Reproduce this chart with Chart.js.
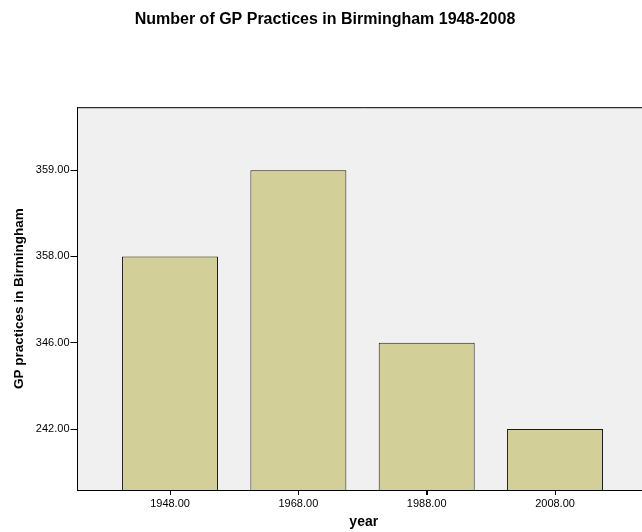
<!DOCTYPE html>
<html>
<head>
<meta charset="utf-8">
<script src="https://cdn.jsdelivr.net/npm/chart.js@4/dist/chart.umd.min.js"></script>
<style>
html,body{margin:0;padding:0;background:#fff;overflow:hidden;}
#wrap{width:650px;height:532px;}
</style>
</head>
<body>
<div id="wrap"><canvas id="c" width="650" height="532"></canvas></div>
<script>
const years = [1948, 1968, 1988, 2008];
const practices = [358, 359, 346, 242];
// SPSS treats the values as ordered categories on the y axis
const yCategories = [...new Set(practices)].sort((a, b) => a - b);
const yTickLabels = yCategories.map(v => v.toFixed(2));
const xTickLabels = years.map(v => v.toFixed(2));

const points = years.map((yr, i) => ({x: yr, y: yCategories.indexOf(practices[i]) + 1}));

const bgPlugin = {
  id: 'bg',
  beforeDraw(chart) {
    const {ctx, chartArea: a} = chart;
    ctx.save();
    ctx.fillStyle = '#f0f0f0';
    ctx.fillRect(a.left, a.top, a.right - a.left, a.bottom - a.top);
    ctx.restore();
  },
  afterDraw(chart) {
    const {ctx, chartArea: a} = chart;
    const xs = chart.scales.x;
    ctx.save();
    ctx.strokeStyle = '#000';
    ctx.lineWidth = 1;
    ctx.beginPath();
    ctx.moveTo(a.left, a.top + 0.5);
    ctx.lineTo(a.right, a.top + 0.5);
    years.forEach(v => {
      const px = Math.round(xs.getPixelForValue(v)) + 0.5;
      ctx.moveTo(px, a.bottom);
      ctx.lineTo(px, a.bottom + 5);
    });
    ctx.stroke();
    ctx.restore();
  }
};

new Chart(document.getElementById('c'), {
  type: 'bar',
  data: {
    datasets: [{
      data: points,
      backgroundColor: '#d3cf98',
      borderColor: '#1a1a1a',
      borderWidth: 1,
      barPercentage: 0.748,
      categoryPercentage: 1
    }]
  },
  plugins: [bgPlugin],
  options: {
    responsive: false,
    animation: false,
    devicePixelRatio: 1,
    layout: {padding: 0},
    plugins: {
      legend: {display: false},
      tooltip: {enabled: false},
      title: {
        display: true,
        text: 'Number of GP Practices in Birmingham 1948-2008',
        color: '#000',
        font: {family: 'Arial, "Liberation Sans", sans-serif', size: 16, weight: 'bold'},
        padding: {top: 10, bottom: 78}
      }
    },
    scales: {
      x: {
        type: 'linear',
        offset: false,
        min: 1933.58,
        max: 2022.8,
        afterBuildTicks(s) { s.ticks = years.map(v => ({value: v})); },
        ticks: {
          callback: (v) => xTickLabels[years.indexOf(v)],
          color: '#000',
          font: {family: 'Arial, "Liberation Sans", sans-serif', size: 11},
          padding: 2,
          maxRotation: 0,
          autoSkip: false
        },
        grid: {display: true, offset: false, drawOnChartArea: false, drawTicks: true, tickLength: 5, color: '#000'},
        border: {display: true, color: '#000', width: 1},
        title: {
          display: true,
          text: 'year',
          color: '#000',
          font: {family: 'Arial, "Liberation Sans", sans-serif', size: 14, weight: 'bold'},
          padding: {top: 2, bottom: 1}
        },
        afterFit(s) { s.height = 42; }
      },
      y: {
        type: 'linear',
        min: 0.293,
        max: 4.73,
        afterBuildTicks(s) { s.ticks = yCategories.map((v, i) => ({value: i + 1})); },
        ticks: {
          callback: (v) => yTickLabels[v - 1],
          color: '#000',
          font: {family: 'Arial, "Liberation Sans", sans-serif', size: 11},
          padding: 1,
          autoSkip: false
        },
        grid: {display: true, drawOnChartArea: false, drawTicks: true, tickLength: 7, color: '#000'},
        border: {display: true, color: '#000', width: 1},
        title: {
          display: true,
          text: 'GP practices in Birmingham',
          color: '#000',
          font: {family: 'Arial, "Liberation Sans", sans-serif', size: 13.5, weight: 'bold'},
          padding: {top: 11, bottom: 2}
        },
        afterFit(s) { s.width = 77.5; }
      }
    }
  }
});
</script>
</body>
</html>
